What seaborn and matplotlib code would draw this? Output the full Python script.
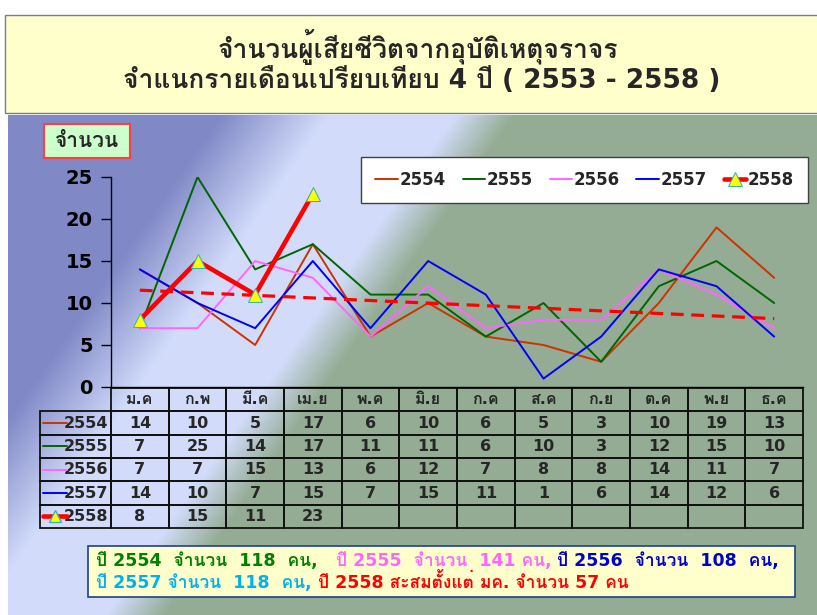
import numpy as np
import matplotlib
matplotlib.use("Agg")
import matplotlib.pyplot as plt
import seaborn as sns
from matplotlib import font_manager
from matplotlib.ft2font import FT2Font
from matplotlib.patches import Rectangle
from matplotlib.table import Table

# ---- data ----
months = ["ม.ค", "ก.พ", "มี.ค", "เม.ย", "พ.ค", "มิ.ย", "ก.ค", "ส.ค", "ก.ย", "ต.ค", "พ.ย", "ธ.ค"]
years = ["2554", "2555", "2556", "2557", "2558"]
y2554 = [14, 10, 5, 17, 6, 10, 6, 5, 3, 10, 19, 13]
y2555 = [7, 25, 14, 17, 11, 11, 6, 10, 3, 12, 15, 10]
y2556 = [7, 7, 15, 13, 6, 12, 7, 8, 8, 14, 11, 7]
y2557 = [14, 10, 7, 15, 7, 15, 11, 1, 6, 14, 12, 6]
y2558 = [8, 15, 11, 23]
yticks = [0, 5, 10, 15, 20, 25]

title1 = "จำนวนผู้เสียชีวิตจากอุบัติเหตุจราจร"
title2 = "จำแนกรายเดือนเปรียบเทียบ 4 ปี ( 2553 - 2558 )"
ylabel = "จำนวน"
note1 = [("ปี 2554  จำนวน  118  คน,   ", "#008000"),
         ("ปี 2555  จำนวน  141 คน, ", "#FF66FF"),
         ("ปี 2556  จำนวน  108  คน,", "#0000CC")]
note2 = [("ปี 2557 จำนวน  118  คน, ", "#00B0F0"),
         ("ปี 2558 สะสมตั้งแต่ มค. จำนวน 57 คน", "#FF0000")]

colors = {"2554": "#CC3300", "2555": "#006600", "2556": "#FF66FF",
          "2557": "#0000FF", "2558": "#FF0000"}
values = {"2554": y2554, "2555": y2555, "2556": y2556, "2557": y2557, "2558": y2558}


def thai_family():
    # prefer a Thai-capable family that also ships a bold face
    found = []
    for f in font_manager.fontManager.ttflist:
        try:
            if 0x0E08 in FT2Font(f.fname).get_charmap():
                found.append(f)
        except Exception:
            continue
    bold = [f for f in found if isinstance(f.weight, int) and f.weight >= 600
            or f.weight == "bold"]
    if bold:
        return bold[0].name
    return found[0].name if found else None


sns.set_style("white")
thai = thai_family()
fam = ["DejaVu Sans", thai] if thai else ["DejaVu Sans"]
plt.rcParams["font.family"] = fam

W, H = 817, 615
fig = plt.figure(figsize=(W / 100, H / 100), dpi=100)

# background: diagonal purple -> light blue -> grey green
bg = fig.add_axes([0, 0, 1, 1], zorder=-10)
yy, xx = np.mgrid[0:H, 0:W]
s = xx + 0.7 * yy
stops = [300, 410, 535, 595]
cols = np.array([[128, 136, 198], [210, 220, 250], [210, 220, 250], [148, 172, 148]]) / 255
img = np.stack([np.interp(s, stops, cols[:, i]) for i in range(3)], axis=-1)
img[:115] = 1
img[:, :8] = 1
bg.imshow(img, extent=(0, W, H, 0), aspect="auto")
bg.set_xlim(0, W)
bg.set_ylim(H, 0)
bg.axis("off")

# title box
bg.add_patch(Rectangle((5, 15), 815, 98, fc="#FFFFCC", ec="#6F7F9F", lw=1))
bg.text(418, 47, title1, ha="center", va="center", fontsize=19, fontweight="bold")
bg.text(422, 80, title2, ha="center", va="center", fontsize=19, fontweight="bold")

# y label box
bg.add_patch(Rectangle((44, 124), 86, 34, fc="#CCFFCC", ec="#FF4040", lw=1.5))
bg.text(87, 141, ylabel, ha="center", va="center", fontsize=15, fontweight="bold")

# ---- main plot ----
ax = fig.add_axes([111 / W, 1 - 387 / H, 692 / W, 210 / H])
ax.patch.set_alpha(0)
idx = np.arange(12)
for yr in years[:4]:
    sns.lineplot(x=idx, y=values[yr], color=colors[yr], lw=1.4, label=yr, ax=ax)
sns.regplot(x=idx, y=y2557, ci=None, scatter=False, ax=ax,
            line_kws=dict(color="#FF0000", lw=2.3, ls=(0, (4, 2.4)), zorder=3))
sns.lineplot(x=idx[:len(y2558)], y=y2558, color=colors["2558"], lw=3.3, marker="^",
             markersize=10, markerfacecolor="#FFFF00", markeredgecolor="#33B5B5",
             label="2558", ax=ax, zorder=5)

ax.set_xlim(-0.5, 11.5)
ax.set_ylim(0, 25)
ax.set_xticks([])
ax.set_yticks(yticks)
ax.set_xlabel("")
ax.set_ylabel("")
ax.tick_params(axis="y", left=True, length=7, width=1, pad=6, labelsize=14, colors="black")
for lab in ax.get_yticklabels():
    lab.set_fontweight("bold")
for side in ["top", "right"]:
    ax.spines[side].set_visible(False)
for side in ["left", "bottom"]:
    ax.spines[side].set_color("black")
    ax.spines[side].set_linewidth(1)

handles, labels = ax.get_legend_handles_labels()
leg = ax.legend(handles, labels, ncol=5, loc="upper right",
                bbox_to_anchor=(808 / W, 1 - 157 / H), bbox_transform=fig.transFigure,
                borderaxespad=0, frameon=True, fancybox=False, framealpha=1,
                handlelength=1.35, handletextpad=0.1, columnspacing=1.0, borderpad=0.85,
                prop=dict(weight="bold", size=12))
leg.get_frame().set_edgecolor("#404040")
leg.get_frame().set_linewidth(1)

# ---- data table under the plot ----
tx0, ty0, tw, th = (40 - 111) / 692, -(528 - 387) / 210, 763 / 692, 140 / 210
tbl = Table(ax, bbox=[tx0, ty0, tw, th])
col_w = [71] + [57.67] * 12
rows = [[""] + months]
for yr in years:
    v = values[yr]
    rows.append([yr] + [str(n) for n in v] + [""] * (12 - len(v)))
for r, row in enumerate(rows):
    for c, txt in enumerate(row):
        cell = tbl.add_cell(r, c, width=col_w[c], height=1, text=txt,
                            loc="right" if c == 0 else "center",
                            facecolor="none", edgecolor="#111111")
        cell.set_linewidth(1.3)
        cell.PAD = 0.04
        cell.get_text().set_fontweight("bold")
tbl[0, 0].visible_edges = "open"
tbl.auto_set_font_size(False)
tbl.set_fontsize(11.5)
ax.add_table(tbl)

row_h = th / 6
sx = [(43 - 111) / 692, (67 - 111) / 692]
for r, yr in enumerate(years, start=1):
    yc = ty0 + th - (r + 0.5) * row_h
    lw = 3.3 if yr == "2558" else 1.4
    ax.plot(sx, [yc, yc], transform=ax.transAxes, clip_on=False, color=colors[yr], lw=lw)
    if yr == "2558":
        ax.plot([np.mean(sx)], [yc], transform=ax.transAxes, clip_on=False, marker="^",
                ms=9, mfc="#FFFF00", mec="#33B5B5", ls="none")

# ---- note box ----
bg.add_patch(Rectangle((88, 546), 707, 51, fc="#FFFFCC", ec="#1F3F8F", lw=1.2))


def write_parts(x, y, parts, size=12.5):
    rend = fig.canvas.get_renderer()
    inv = bg.transData.inverted()
    for txt, col in parts:
        t = bg.text(x, y, txt, color=col, fontsize=size, fontweight="bold",
                    ha="left", va="center")
        bb = t.get_window_extent(rend)
        x = inv.transform((bb.x1, bb.y0))[0]


write_parts(96, 561, note1)
write_parts(96, 583, note2)

fig.savefig("out.png", dpi=100)
